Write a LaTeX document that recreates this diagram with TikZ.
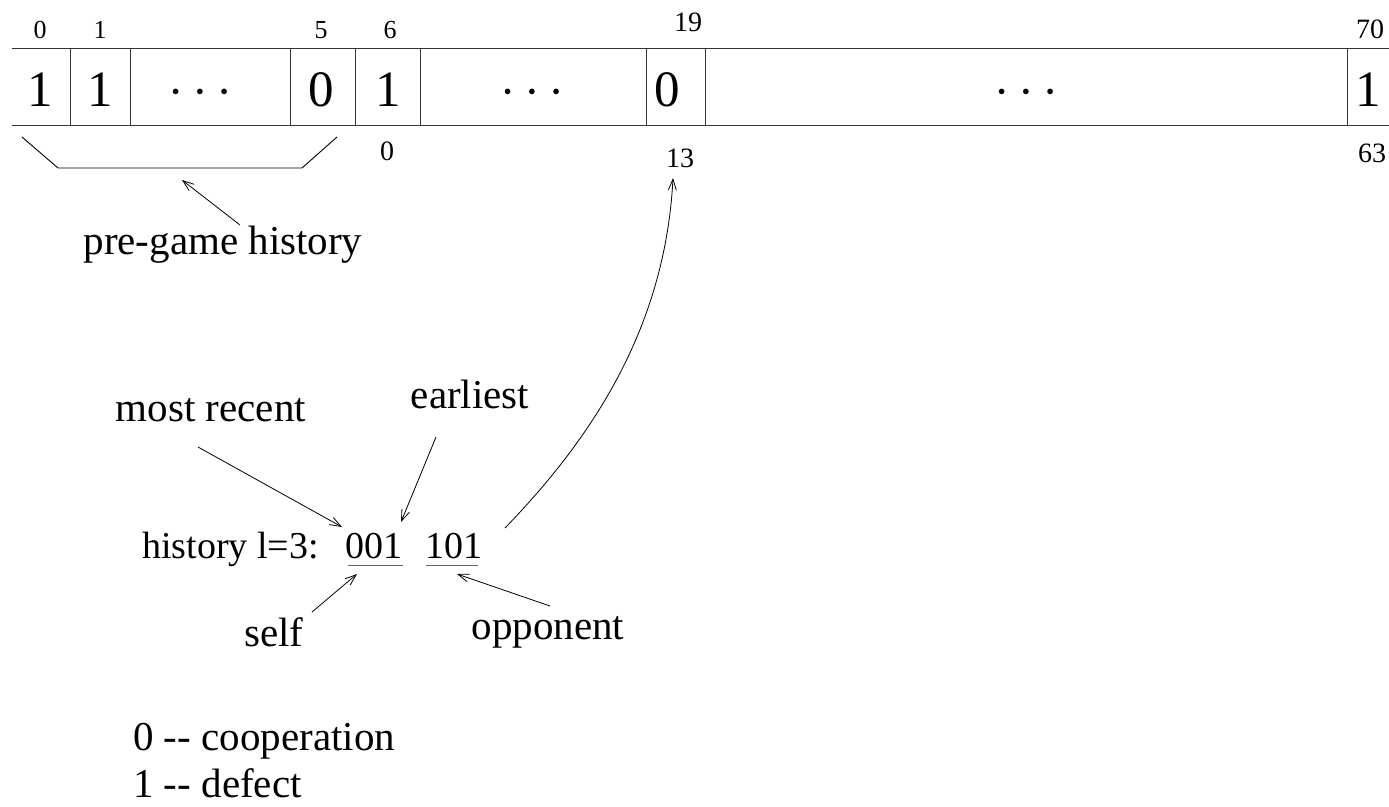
\documentclass[tikz,border=0pt]{standalone}
\usepackage{fontspec}
\setmainfont{Liberation Serif}
\usetikzlibrary{arrows.meta}
\begin{document}
\begin{tikzpicture}[x=1pt,y=-1pt,
  ln/.style={line width=1pt, black!80},
  arr/.style={line width=0.8pt, -{Straight Barb[length=11pt,width=8pt,line width=0.8pt]}},
  cell/.style={anchor=base, inner sep=0pt, font=\fontsize{51}{55}\selectfont},
  dotsn/.style={anchor=center, inner sep=0pt, font=\fontsize{14}{14}\selectfont},
  idxs/.style={anchor=base, inner sep=0pt, font=\fontsize{26}{30}\selectfont},
  idxl/.style={anchor=base, inner sep=0pt, font=\fontsize{28}{32}\selectfont},
  lbl/.style={inner sep=0pt, font=\fontsize{41}{47}\selectfont},
  hlbl/.style={inner sep=0pt, anchor=base west, font=\fontsize{38}{44}\selectfont},
]
\useasboundingbox (0,0) rectangle (1389,806);
% row lines
\draw[ln] (12,48) -- (1389,48);
\draw[ln] (12,125) -- (1389,125);
\foreach \x in {70,130,290,355,420,646,705,1347} \draw[ln] (\x,48) -- (\x,125);
% cells
\newcommand{\mydots}{$\bullet$\hspace{17pt}$\bullet$\hspace{17pt}$\bullet$}
\node[cell] (c0) at (40,106) {1};
\node[cell] (c1) at (100,106) {1};
\node[dotsn] (c2) at (200,92) {\mydots};
\node[cell] (c5) at (321,106) {0};
\node[cell] (c6) at (388,106) {1};
\node[dotsn] (c7) at (532,92) {\mydots};
\node[cell] (c19) at (667,106) {0};
\node[dotsn] (c20) at (1026,92) {\mydots};
\node[cell] (c70) at (1368,106) {1};
% top indices
\node[idxs] (t0) at (40,38) {0};
\node[idxs] (t1) at (100,38) {1};
\node[idxs] (t5) at (321,38) {5};
\node[idxs] (t6) at (390,38) {6};
\node[idxl] (t19) at (688,31) {19};
\node[idxl] (t70) at (1370,38) {70};
% bottom indices
\node[idxl] (b0) at (387,160) {0};
\node[idxl] (b13) at (680,167) {13};
\node[idxl] (b63) at (1372,162) {63};
% bracket
\coordinate (k1) at (22,137);
\coordinate (k2) at (58,168);
\coordinate (k3) at (302,168);
\coordinate (k4) at (337,137);
\draw[line width=0.9pt] (k1) -- (k2) -- (k3) -- (k4);
% pre-game history
\node[lbl] (pre) at (223,245) {pre-game history};
\coordinate (preS) at (240,225);
\coordinate (preT) at (182,180);
\draw[arr] (preS) -- (preT);
% history line
\node[hlbl] (hist) at (142,558) {history l=3:};
\node[hlbl] (own) at (345,558) {001};
\node[hlbl] (opp) at (425,558) {101};
\draw[ln, black!60] (348,565) -- (403,565);
\draw[ln, black!60] (426,565) -- (478,565);
% most recent / earliest
\node[lbl] (mr) at (211,410) {most recent};
\node[lbl] (ea) at (470,394) {earliest};
\coordinate (mrS) at (198,447);
\coordinate (mrT) at (342,527);
\coordinate (eaS) at (436,437);
\coordinate (eaT) at (401,522);
\draw[arr] (mrS) -- (mrT);
\draw[arr] (eaS) -- (eaT);
% self / opponent
\node[lbl] (sf) at (274,632) {self};
\node[lbl] (op) at (548,632) {opponent};
\coordinate (sfS) at (312,612);
\coordinate (sfT) at (357,574);
\coordinate (opS) at (550,606);
\coordinate (opT) at (457,574);
\draw[arr] (sfS) -- (sfT);
\draw[arr] (opS) -- (opT);
% curve to 13
\coordinate (cvS) at (505,528);
\coordinate (cvT) at (673,178);
\draw[arr] (cvS) .. controls (590,440) and (665,330) .. (cvT);
% legend
\node[lbl, anchor=west] (lg0) at (133,741) {0 -{}- cooperation};
\node[lbl, anchor=west] (lg1) at (133,783) {1 -{}- defect};
\end{tikzpicture}
\end{document}
